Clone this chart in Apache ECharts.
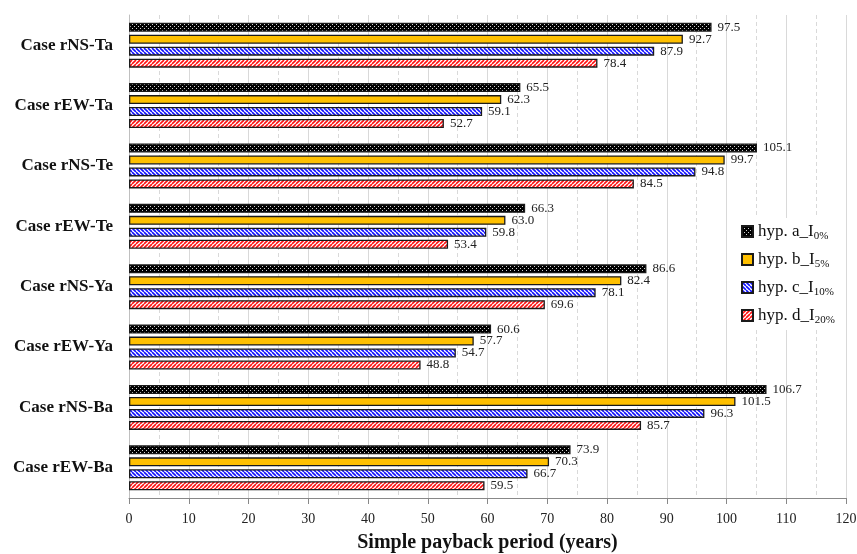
<!DOCTYPE html>
<html>
<head>
<meta charset="utf-8">
<script src="https://cdn.jsdelivr.net/npm/echarts@6/dist/echarts.min.js"></script>
<style>
  html, body { margin: 0; padding: 0; background: #fff; }
  #chart { width: 857px; height: 554px; }
</style>
</head>
<body>
<div id="chart"></div>
<script>
// Cases, listed top to bottom
const cases = ['Case rNS-Ta', 'Case rEW-Ta', 'Case rNS-Te', 'Case rEW-Te',
               'Case rNS-Ya', 'Case rEW-Ya', 'Case rNS-Ba', 'Case rEW-Ba'];

// Simple payback period (years) for each hypothesis
const hypA = [97.5, 65.5, 105.1, 66.3, 86.6, 60.6, 106.7, 73.9];
const hypB = [92.7, 62.3, 99.7, 63.0, 82.4, 57.7, 101.5, 70.3];
const hypC = [87.9, 59.1, 94.8, 59.8, 78.1, 54.7, 96.3, 66.7];
const hypD = [78.4, 52.7, 84.5, 53.4, 69.6, 48.8, 85.7, 59.5];

const seriesNames = ['hyp. a_I{s|0%}', 'hyp. b_I{s|5%}', 'hyp. c_I{s|10%}', 'hyp. d_I{s|20%}'];
const seriesKeys = ['a', 'b', 'c', 'd'];
const axisTicks = [0, 10, 20, 30, 40, 50, 60, 70, 80, 90, 100, 110, 120];

const FONT = '"Liberation Serif", "DejaVu Serif", serif';

// Fill patterns for the bars
function dotPattern() {
  const c = document.createElement('canvas');
  c.width = 4; c.height = 4;
  const g = c.getContext('2d');
  g.fillStyle = '#000'; g.fillRect(0, 0, 4, 4);
  g.fillStyle = '#d0d0d0';
  g.fillRect(0, 0, 1, 1);
  g.fillRect(2, 2, 1, 1);
  return { image: c, repeat: 'repeat' };
}
function stripePattern(color, backslash) {
  const s = 4;
  const c = document.createElement('canvas');
  c.width = s; c.height = s;
  const g = c.getContext('2d');
  g.fillStyle = '#fff'; g.fillRect(0, 0, s, s);
  g.strokeStyle = color; g.lineWidth = 1.6;
  g.beginPath();
  for (let k = -1; k <= 1; k++) {
    if (backslash) {
      g.moveTo(k * s, 0); g.lineTo(k * s + s, s);
    } else {
      g.moveTo(k * s, s); g.lineTo(k * s + s, 0);
    }
  }
  g.stroke();
  return { image: c, repeat: 'repeat' };
}

const fills = {
  a: dotPattern(),
  b: '#FFC000',
  c: stripePattern('#1010ff', true),
  d: stripePattern('#ff1010', false)
};
const values = { a: hypA, b: hypB, c: hypC, d: hypD };

const chart = echarts.init(document.getElementById('chart'), null, { renderer: 'canvas' });

const series = seriesKeys.map((k, i) => ({
  name: seriesNames[i],
  type: 'bar',
  data: values[k],
  barWidth: 9,
  barGap: '33%',
  itemStyle: { color: fills[k], borderColor: '#1a1a1a', borderWidth: 1.3 },
  label: {
    show: true,
    position: 'right',
    distance: 6,
    fontFamily: FONT,
    fontSize: 13,
    color: '#222',
    formatter: p => p.value.toFixed(1)
  }
}));

chart.setOption({
  animation: false,
  backgroundColor: '#fff',
  grid: { left: 129, right: 11, top: 15, bottom: 56, containLabel: false, outerBoundsMode: 'none' },
  legend: {
    orient: 'vertical',
    left: 737,
    top: 218,
    itemWidth: 11,
    itemHeight: 11,
    itemGap: 8,
    backgroundColor: '#fff',
    padding: [4, 8, 4, 4],
    data: seriesNames.map(n => ({ name: n, icon: 'rect' })),
    formatter: n => n,
    textStyle: {
      fontFamily: FONT,
      fontSize: 17,
      lineHeight: 19,
      color: '#111',
      rich: {
        s: { fontFamily: FONT, fontSize: 11, color: '#111', padding: [10, 0, 0, 0] }
      }
    }
  },
  xAxis: {
    type: 'value',
    min: 0,
    max: 120,
    interval: 10,
    name: 'Simple payback period (years)',
    nameLocation: 'middle',
    nameGap: 35,
    nameTextStyle: { fontFamily: FONT, fontSize: 20, fontWeight: 'bold', color: '#111' },
    axisLine: { show: true, lineStyle: { color: '#888', width: 1 } },
    axisTick: { show: true, length: 6, lineStyle: { color: '#888' } },
    axisLabel: {
      fontFamily: FONT, fontSize: 14, color: '#222', margin: 14,
      formatter: v => axisTicks.includes(v) ? String(v) : ''
    },
    splitLine: { show: true, lineStyle: { color: '#d9d9d9', width: 1 } },
    minorTick: { show: false, splitNumber: 2 },
    minorSplitLine: { show: true, lineStyle: { color: '#d9d9d9', type: [4, 3], width: 1 } }
  },
  yAxis: {
    type: 'category',
    inverse: true,
    data: cases,
    axisLine: { show: true, lineStyle: { color: '#bfbfbf' } },
    axisTick: { show: false },
    axisLabel: {
      fontFamily: FONT, fontSize: 17, fontWeight: 'bold', color: '#111', margin: 16
    }
  },
  series: series
});
</script>
</body>
</html>
